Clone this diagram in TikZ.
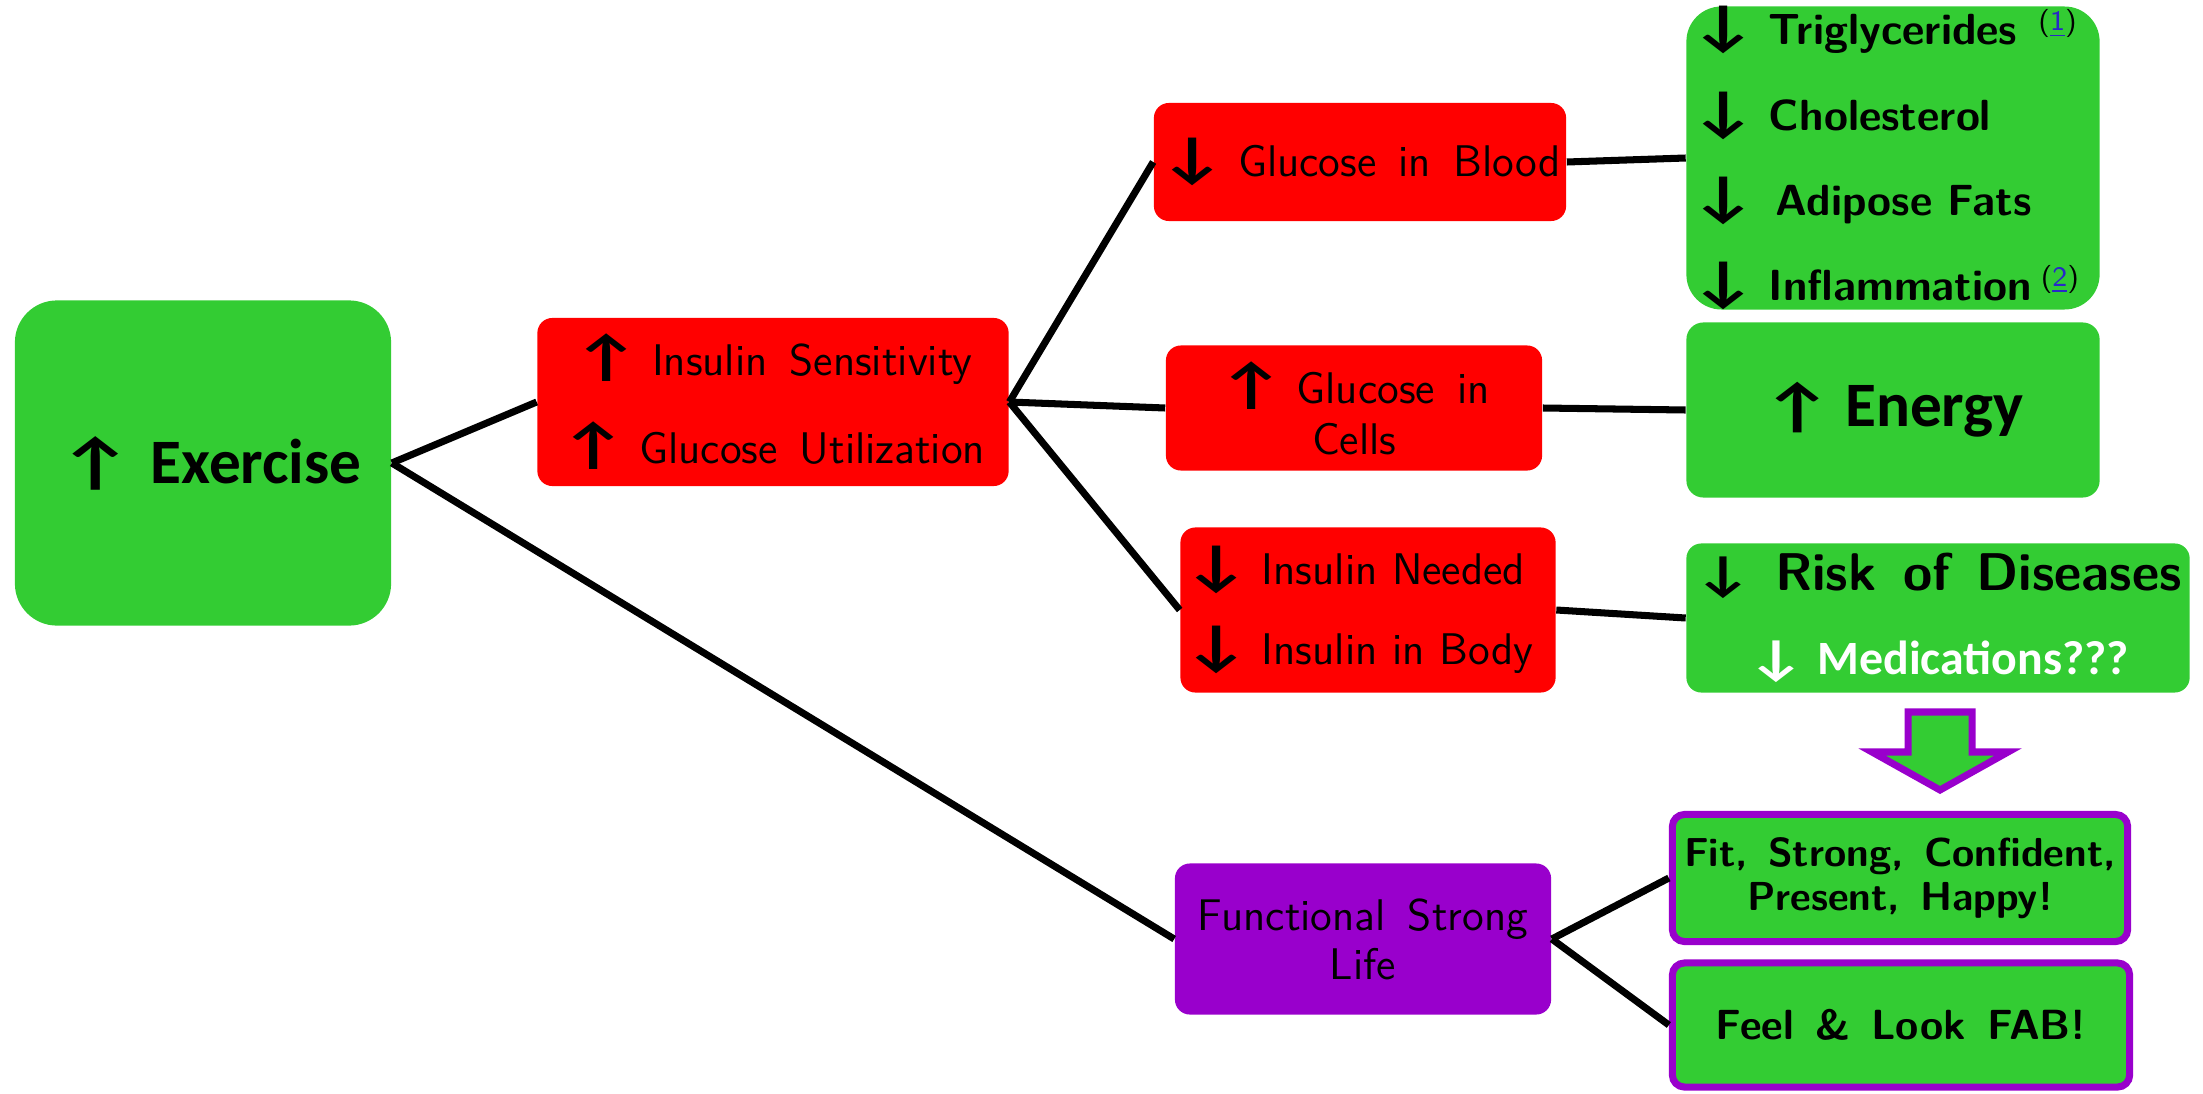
\documentclass[tikz,border=0pt]{standalone}
\usepackage{fontspec}
\newfontfamily\calfont{Carlito}
\definecolor{boxgreen}{RGB}{51, 204, 51}
\definecolor{boxred}{RGB}{255, 0, 0}
\definecolor{boxpurple}{RGB}{153, 0, 204}
\definecolor{linkblue}{RGB}{40, 40, 200}
\newcommand{\uarr}[1][16]{{\calfont\bfseries\fontsize{#1}{#1}\selectfont\scalebox{1.3}[1]{↑}}\hspace{3.5pt}}
\newcommand{\darr}[1][16]{{\calfont\bfseries\fontsize{#1}{#1}\selectfont\scalebox{1.3}[1]{↓}}\hspace{3.5pt}}
\newcommand{\redtext}[1]{\sffamily\fontsize{12.6}{#1}\selectfont\spaceskip=0.5em\relax}
\newcommand{\greentext}[2]{\sffamily\bfseries\fontsize{#1}{#2}\selectfont\spaceskip=0.5em\relax}
\newcommand{\refmark}[1]{\makebox[0pt][l]{\raisebox{4pt}{\fontsize{8}{8}\selectfont\mdseries(\textcolor{linkblue}{\underline{#1}})}}}

\begin{document}
\begin{tikzpicture}[x=0.01cm, y=-0.01cm,
  box/.style={rectangle, rounded corners=0.15cm, inner sep=0pt, align=center},
  redbox/.style={box, fill=boxred},
  greenbox/.style={box, fill=boxgreen},
  purplebox/.style={box, fill=boxpurple},
  ringbox/.style={box, fill=boxgreen, draw=boxpurple, line width=2pt, rounded corners=0.12cm},
  link/.style={line width=2pt, black}]
  \useasboundingbox (0,0) rectangle (2203,1094);

  % start
  \node[greenbox, rounded corners=0.42cm, minimum width=3.76cm, minimum height=3.25cm,
    font=\calfont\bfseries\fontsize{18}{22}\selectfont] (exercise) at (203,463)
    {\hspace*{4pt}\uarr[18]\hspace{1.5pt}Exercise};

  % first effect (RED)
  \node[redbox, minimum width=4.71cm, minimum height=1.68cm, font=\redtext{25}] (insulin) at (773,402)
    {\uarr Insulin Sensitivity\\ \uarr Glucose Utilization};

  % glucose and insulin (RED)
  \node[redbox, minimum width=4.12cm, minimum height=1.18cm, font=\redtext{15}] (blood) at (1360,162)
    {\darr Glucose in Blood};
  \node[redbox, minimum width=3.76cm, minimum height=1.25cm, font=\redtext{14.5}] (cells) at (1354,408)
    {\uarr Glucose in\\Cells};
  \node[redbox, minimum width=3.75cm, minimum height=1.65cm, text width=3.69cm, align=left,
    inner xsep=0.03cm, font=\redtext{22.8}] (need) at (1368,610)
    {\darr Insulin Needed\\ \darr Insulin in Body};

  % life (PURPLE)
  \node[purplebox, minimum width=3.76cm, minimum height=1.51cm, font=\redtext{14}] (life) at (1363,939)
    {Functional Strong\\Life};

  % results (GREEN)
  \node[greenbox, rounded corners=0.35cm, minimum width=4.13cm, minimum height=2.97cm, text width=4.05cm,
    align=left, inner xsep=0.04cm, font=\greentext{12.4}{24.2}] (lipids) at (1893,158)
    {\darr Triglycerides\hspace{6pt}\refmark{1}\\ \darr Cholesterol\\
     \darr\hspace{2pt}Adipose Fats\\ \darr Inflammation\hspace{2.5pt}\refmark{2}};
  \node[greenbox, rounded corners=0.17cm, minimum width=4.13cm, minimum height=1.75cm,
    font=\calfont\bfseries\fontsize{18}{22}\selectfont] (energy) at (1893,410) {\uarr[17]Energy};
  \node[greenbox, minimum width=5.03cm, minimum height=1.49cm, font=\greentext{15.1}{24}] (risk) at (1938,618)
    {\darr[14]\hspace{3pt}Risk of Diseases\\ {\calfont\fontsize{13.6}{24}\selectfont\color{white}\darr[14]Medications???}};

  % big arrow
  \draw[boxpurple, fill=boxgreen, line width=2pt] (1908,712) -- (1972,712) -- (1972,752) -- (2008,752)
    -- (1940,790) -- (1872,752) -- (1908,752) -- cycle;

  \node[ringbox, minimum width=4.55cm, minimum height=1.27cm, font=\greentext{11.5}{12.5}] (fit) at (1900,878)
    {Fit, Strong, Confident,\\Present, Happy!};
  \node[ringbox, minimum width=4.57cm, minimum height=1.24cm, font=\greentext{12}{14}] (fab) at (1901,1025)
    {Feel \& Look FAB!};

  % connectors
  \draw[link] (exercise.east) -- (insulin.west);
  \draw[link] (exercise.east) -- (life.west);
  \draw[link] (insulin.east) -- (blood.west);
  \draw[link] (insulin.east) -- (cells.west);
  \draw[link] (insulin.east) -- (need.west);
  \draw[link] (blood.east) -- (lipids.west);
  \draw[link] (cells.east) -- (energy.west);
  \draw[link] (need.east) -- (risk.west);
  \draw[link] (life.east) -- (fit.west);
  \draw[link] (life.east) -- (fab.west);
\end{tikzpicture}
\end{document}
